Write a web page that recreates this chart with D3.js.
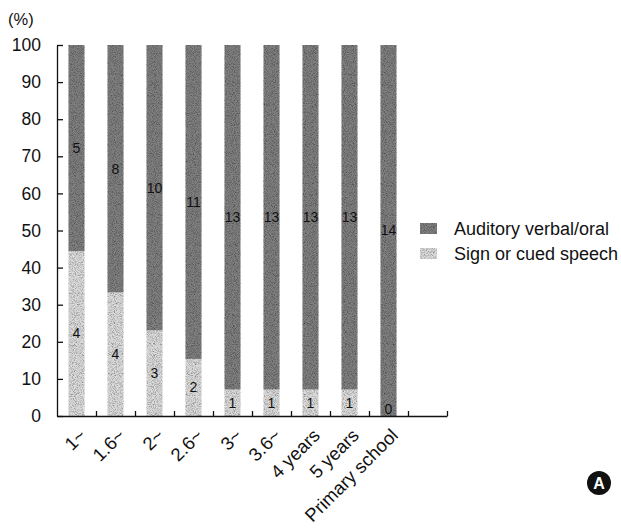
<!DOCTYPE html>
<html>
<head>
<meta charset="utf-8">
<script src="https://cdn.jsdelivr.net/npm/d3@7"></script>
<style>
  html, body { margin: 0; padding: 0; background: #fff; }
  svg { display: block; font-family: "Liberation Sans", Arial, Helvetica, sans-serif; }
</style>
</head>
<body>
<svg id="chart" width="621" height="529"></svg>
<script>
// Age groups at which communication mode was recorded
const categories = ["1~", "1.6~", "2~", "2.6~", "3~", "3.6~", "4 years", "5 years", "Primary school"];
// Number of children per mode in each group
const auditoryCounts = [5, 8, 10, 11, 13, 13, 13, 13, 14];
const signCounts     = [4, 4, 3, 2, 1, 1, 1, 1, 0];
const seriesNames = ["Auditory verbal/oral", "Sign or cued speech"];
const yTicks = [0, 10, 20, 30, 40, 50, 60, 70, 80, 90, 100];

const svg = d3.select("#chart");
const plotLeft = 57, plotRight = 447, plotTop = 45, plotBottom = 416;
const slots = categories.length + 1;   // one empty slot after the last group

const xIndex = d3.scaleLinear().domain([0, slots]).range([plotLeft, plotRight]);
const x = d3.scaleBand().domain(d3.range(slots)).range([plotLeft, plotRight]).padding(0);
const y = d3.scaleLinear().domain([0, 100]).range([plotBottom, plotTop]);
const barW = 16;

const darkFill = "#808080", lightFill = "#dcdcdc";

// Halftone-like grain laid over the shaded fills
const grain = svg.append("defs").append("filter")
  .attr("id", "grain")
  .attr("x", 0).attr("y", 0).attr("width", 1).attr("height", 1);
grain.append("feTurbulence")
  .attr("type", "fractalNoise").attr("baseFrequency", 1.1)
  .attr("numOctaves", 1).attr("seed", 7).attr("result", "noise");
grain.append("feColorMatrix")
  .attr("in", "noise").attr("type", "matrix")
  .attr("values", "0 0 0 0 0  0 0 0 0 0  0 0 0 0 0  1.8 0 0 0 -0.75")
  .attr("result", "dots");
grain.append("feComposite")
  .attr("in", "dots").attr("in2", "SourceGraphic").attr("operator", "in")
  .attr("result", "clipped");
const merge = grain.append("feMerge");
merge.append("feMergeNode").attr("in", "SourceGraphic");
merge.append("feMergeNode").attr("in", "clipped");

// Percent shares per group
const rows = categories.map((c, i) => {
  const total = auditoryCounts[i] + signCounts[i];
  const signPct = signCounts[i] / total * 100;
  return { c, i, aud: auditoryCounts[i], sign: signCounts[i], signPct };
});

const bars = svg.append("g");
rows.forEach(r => {
  const bx = x(r.i) + (x.bandwidth() - barW) / 2;
  // lower segment: sign or cued speech
  bars.append("rect")
    .attr("x", bx).attr("width", barW)
    .attr("y", y(r.signPct)).attr("height", y(0) - y(r.signPct))
    .attr("fill", lightFill).attr("filter", "url(#grain)");
  // upper segment: auditory verbal/oral
  bars.append("rect")
    .attr("x", bx).attr("width", barW)
    .attr("y", y(100)).attr("height", y(r.signPct) - y(100))
    .attr("fill", darkFill).attr("filter", "url(#grain)");
  const cx = bx + barW / 2;
  bars.append("text")
    .attr("x", cx).attr("y", y((100 + r.signPct) / 2))
    .attr("dy", "0.35em").attr("text-anchor", "middle")
    .attr("font-size", 14).attr("fill", "#111")
    .text(r.aud);
  bars.append("text")
    .attr("x", cx).attr("y", Math.min(y(r.signPct / 2), y(0) - 7))
    .attr("dy", "0.35em").attr("text-anchor", "middle")
    .attr("font-size", 14).attr("fill", "#111")
    .text(r.sign);
});

// Y axis with inward ticks
const yAxis = svg.append("g")
  .attr("transform", `translate(${plotLeft},0)`)
  .call(d3.axisLeft(y).tickValues(yTicks).tickSize(-6).tickSizeOuter(0).tickPadding(16));
yAxis.attr("font-family", null);
yAxis.selectAll("text").attr("font-size", 17.5).attr("fill", "#111");
yAxis.selectAll("line, path").attr("stroke", "#111").attr("stroke-width", 1.3);

svg.append("text")
  .attr("x", 8).attr("y", 25)
  .attr("font-size", 16.5).attr("fill", "#111")
  .text("(%)");

// X axis: ticks at slot boundaries, pointing up
const xAxis = svg.append("g")
  .attr("transform", `translate(0,${plotBottom})`)
  .call(d3.axisBottom(xIndex).tickValues(d3.range(1, slots + 1)).tickSize(-5).tickSizeOuter(0).tickFormat(""));
xAxis.selectAll("line, path").attr("stroke", "#111").attr("stroke-width", 1.3);

// Rotated group labels
svg.append("g").selectAll("text")
  .data(rows)
  .join("text")
  .attr("transform", d => `translate(${x(d.i) + x.bandwidth() / 2 + 6},${plotBottom + 16}) rotate(-45)`)
  .attr("text-anchor", "end")
  .attr("dy", "0.35em")
  .attr("font-size", 18.5).attr("fill", "#111")
  .text(d => d.c);

// Legend
const legend = svg.append("g").attr("transform", "translate(420,223)");
[darkFill, lightFill].forEach((f, i) => {
  const g = legend.append("g").attr("transform", `translate(0,${i * 25})`);
  g.append("rect").attr("width", 17).attr("height", 11).attr("fill", f).attr("filter", "url(#grain)");
  g.append("text").attr("x", 34).attr("y", 6).attr("dy", "0.35em")
    .attr("font-size", 18).attr("fill", "#111").text(seriesNames[i]);
});

// Panel badge
const badge = svg.append("g").attr("transform", "translate(599,483)");
badge.append("circle").attr("r", 12).attr("fill", "#111");
badge.append("text").attr("text-anchor", "middle").attr("dy", "0.36em")
  .attr("font-size", 16).attr("font-weight", "bold").attr("fill", "#fff").text("A");
</script>
</body>
</html>
